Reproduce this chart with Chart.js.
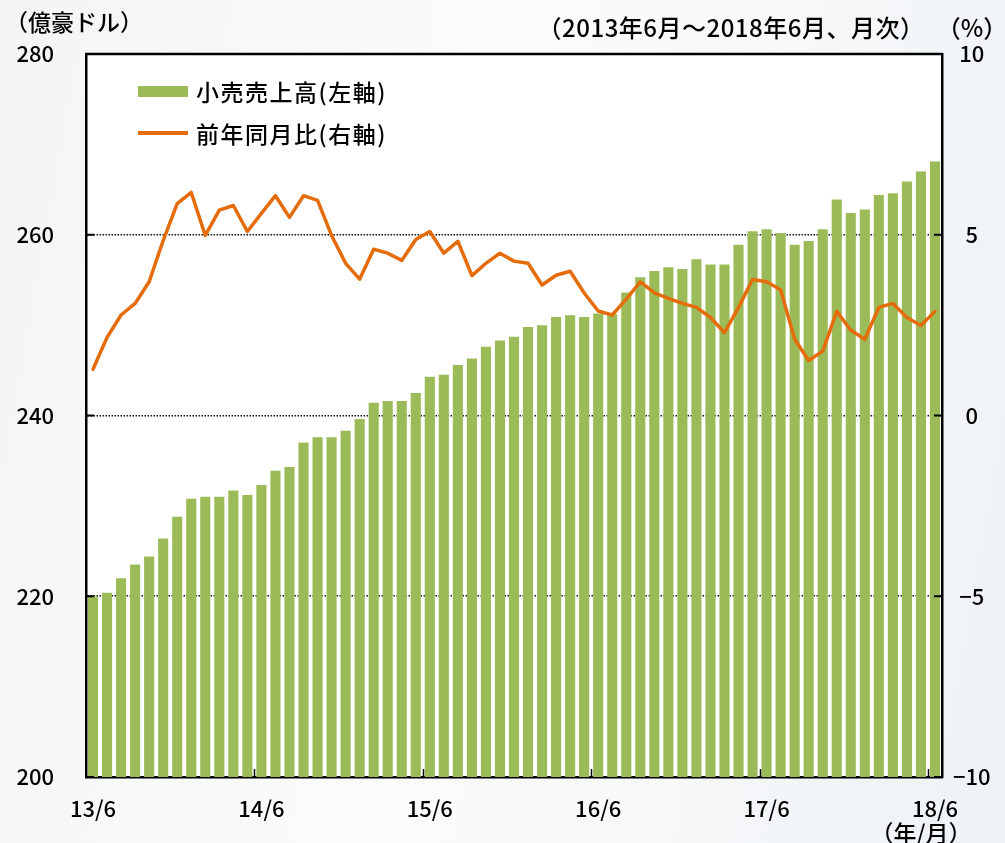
<!DOCTYPE html>
<html><head><meta charset="utf-8">
<script src="https://cdn.jsdelivr.net/npm/chart.js@4.4.1/dist/chart.umd.min.js"></script>
<style>
html,body{margin:0;padding:0;}
body{width:1005px;height:843px;overflow:hidden;background:linear-gradient(100deg,#f2f4f6 0%,#fbfcfc 45%,#f6f8f9 70%,#edf2f5 100%);}
#wrap{position:relative;width:1005px;height:843px;}
canvas{position:absolute;left:0;top:0;}
</style></head><body>
<div id="wrap"><canvas id="c" width="1005" height="843"></canvas></div>
<script>
const categories = [
 "13/6","13/7","13/8","13/9","13/10","13/11","13/12","14/1","14/2","14/3","14/4","14/5",
 "14/6","14/7","14/8","14/9","14/10","14/11","14/12","15/1","15/2","15/3","15/4","15/5",
 "15/6","15/7","15/8","15/9","15/10","15/11","15/12","16/1","16/2","16/3","16/4","16/5",
 "16/6","16/7","16/8","16/9","16/10","16/11","16/12","17/1","17/2","17/3","17/4","17/5",
 "17/6","17/7","17/8","17/9","17/10","17/11","17/12","18/1","18/2","18/3","18/4","18/5",
 "18/6"];
const tickLabels = ["13/6","14/6","15/6","16/6","17/6","18/6"];
const salesValues = [
 220.0,220.4,222.0,223.5,224.4,226.4,228.8,230.8,231.0,231.0,231.7,231.2,
 232.3,233.9,234.3,237.0,237.6,237.6,238.3,239.6,241.4,241.6,241.6,242.5,
 244.3,244.5,245.6,246.3,247.6,248.3,248.7,249.8,250.0,250.9,251.1,250.9,
 251.3,251.2,253.6,255.3,256.0,256.4,256.2,257.3,256.7,256.7,258.9,260.4,
 260.6,260.2,258.9,259.3,260.6,263.9,262.4,262.8,264.4,264.6,265.9,267.0,
 268.1];
const yoyValues = [
 1.28,2.16,2.78,3.10,3.70,4.84,5.86,6.17,4.98,5.68,5.81,5.09,
 5.59,6.08,5.48,6.08,5.95,4.98,4.21,3.77,4.60,4.49,4.29,4.87,
 5.09,4.49,4.82,3.87,4.21,4.49,4.27,4.21,3.61,3.88,3.99,3.39,
 2.89,2.78,3.22,3.70,3.39,3.24,3.10,2.99,2.71,2.29,2.99,3.76,
 3.70,3.48,2.11,1.52,1.78,2.88,2.36,2.11,2.99,3.10,2.71,2.49,
 2.88];
const seriesNames = ["小売売上高(左軸)","前年同月比(右軸)"];
const leftUnit = "（億豪ドル）";
const rightUnit = "（%）";
const periodNote = "（2013年6月～2018年6月、月次）";
const xUnit = "（年/月）";

const FONT = '"Noto Sans CJK JP", "Noto Sans", sans-serif';
const BAR = '#9BBB59';
const LINE = '#E46C0A';

const frame = {
  id: 'frame',
  beforeDraw(chart) {
    const {ctx, chartArea: a} = chart;
    ctx.save();
    ctx.fillStyle = '#ffffff';
    ctx.fillRect(a.left, a.top, a.right - a.left, a.bottom - a.top);
    ctx.restore();
  },
  afterDraw(chart) {
    const {ctx, chartArea: a, scales} = chart;
    ctx.save();
    ctx.strokeStyle = '#000';
    ctx.lineWidth = 2.5;
    ctx.beginPath(); ctx.moveTo(a.left - 1, a.top); ctx.lineTo(a.right + 1, a.top); ctx.stroke();
    ctx.lineWidth = 2;
    scales.y.ticks.forEach(t => {
      const y = scales.y.getPixelForValue(t.value);
      ctx.beginPath(); ctx.moveTo(a.left, y); ctx.lineTo(a.left + 8, y); ctx.stroke();
    });
    scales.y1.ticks.forEach(t => {
      const y = scales.y1.getPixelForValue(t.value);
      ctx.beginPath(); ctx.moveTo(a.right, y); ctx.lineTo(a.right - 8, y); ctx.stroke();
    });
    const xs = scales.x;
    const step = xs.getPixelForValue(1) - xs.getPixelForValue(0);
    ctx.lineWidth = 1.5;
    categories.forEach((c, i) => {
      if (i > 0 && tickLabels.includes(c)) {
        const x = Math.round(xs.getPixelForValue(i) - step / 2) + 0.5;
        ctx.beginPath(); ctx.moveTo(x, a.bottom); ctx.lineTo(x, a.bottom - 8); ctx.stroke();
      }
    });
    // legend
    const ds = chart.data.datasets;
    ctx.fillStyle = ds[0].backgroundColor;
    ctx.fillRect(138, 86, 50, 11);
    ctx.strokeStyle = ds[1].borderColor;
    ctx.lineWidth = 4;
    ctx.beginPath(); ctx.moveTo(138, 133); ctx.lineTo(188, 133); ctx.stroke();
    ctx.fillStyle = '#000';
    ctx.font = '500 23px ' + FONT;
    ctx.textBaseline = 'middle';
    ctx.textAlign = 'left';
    ctx.letterSpacing = '1.5px';
    ctx.fillText(ds[0].label, 196, 92);
    ctx.fillText(ds[1].label, 196, 134);
    // units
    ctx.letterSpacing = '0px';
    ctx.fillText(leftUnit, 5, 22);
    ctx.font = '500 24px ' + FONT;
    ctx.textAlign = 'center';
    ctx.letterSpacing = '0.5px';
    ctx.fillText(periodNote, 731, 28);
    ctx.letterSpacing = '0px';
    ctx.fillText(rightUnit, 972, 28);
    ctx.font = '500 23px ' + FONT;
    ctx.fillText(xUnit, 921, 833);
    ctx.restore();
  }
};

const tickFont = { family: FONT, size: 22, weight: '500' };

new Chart(document.getElementById('c'), {
  data: {
    labels: categories,
    datasets: [
      { type: 'bar', label: seriesNames[0], data: salesValues, yAxisID: 'y',
        backgroundColor: BAR, borderWidth: 0, barPercentage: 1, categoryPercentage: 0.72, order: 2 },
      { type: 'line', label: seriesNames[1], data: yoyValues, yAxisID: 'y1',
        borderColor: LINE, backgroundColor: LINE, borderWidth: 3.5, pointRadius: 0,
        tension: 0, order: 1, borderJoinStyle: 'round', borderCapStyle: 'round' }
    ]
  },
  options: {
    responsive: false,
    animation: false,
    devicePixelRatio: 1,
    layout: { padding: { top: 54, left: 0, right: 0, bottom: 0 } },
    plugins: { legend: { display: false }, tooltip: { enabled: false } },
    scales: {
      x: {
        type: 'category',
        offset: true,
        grid: { display: false, drawTicks: false },
        border: { display: true, color: '#000', width: 2.5 },
        ticks: {
          autoSkip: false, maxRotation: 0, minRotation: 0, padding: 18,
          color: '#000', font: tickFont,
          callback: function(v, i) { const c = categories[i]; return tickLabels.includes(c) ? c : ''; }
        },
        afterFit: s => { s.height = 66; }
      },
      y: {
        position: 'left', min: 200, max: 280,
        grid: {
          drawTicks: false, lineWidth: 1.6,
          color: c => (c.tick && (c.tick.value === 200 || c.tick.value === 280)) ? 'rgba(0,0,0,0)' : '#111'
        },
        border: { display: true, color: '#000', width: 2.5, dash: [1.5, 1.5] },
        ticks: { stepSize: 20, padding: 32, color: '#000', font: tickFont },
        afterFit: s => { s.width = 86; }
      },
      y1: {
        position: 'right', min: -10, max: 10,
        grid: { drawOnChartArea: false, drawTicks: false },
        border: { display: true, color: '#000', width: 2.5 },
        ticks: { stepSize: 5, padding: 11, crossAlign: 'center', color: '#000', font: tickFont,
          callback: v => (v < 0 ? '−' + Math.abs(v) : String(v)) },
        afterFit: s => { s.width = 63; }
      }
    }
  },
  plugins: [frame]
});
</script>
</body></html>
